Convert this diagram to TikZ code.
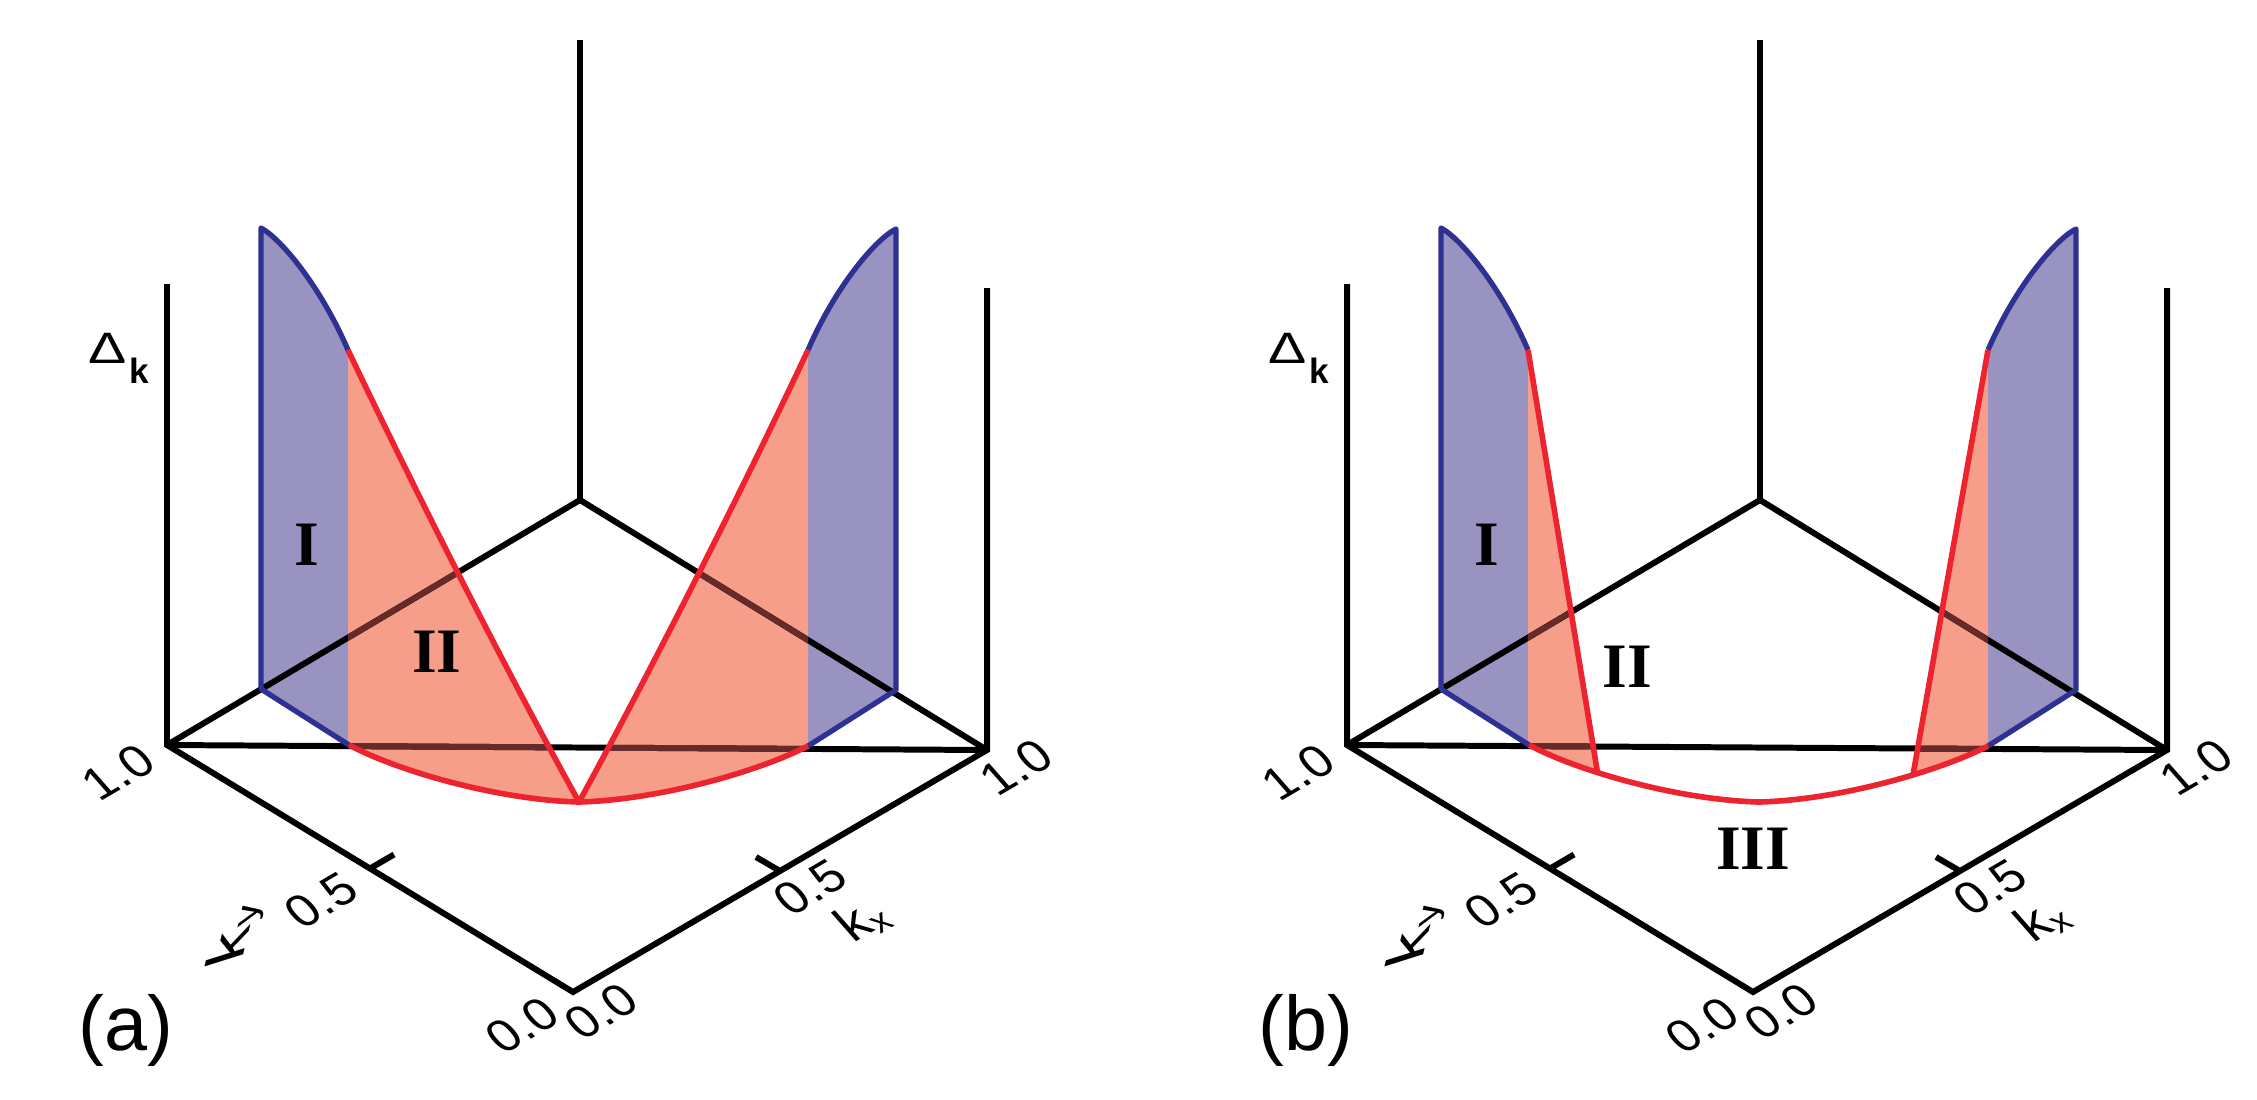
\documentclass[tikz,border=0pt]{standalone}
\usepackage{fontspec}
\setmainfont{Liberation Sans}
\newfontfamily\romfont{Liberation Serif}
\usepackage{graphicx}
\definecolor{bfill}{RGB}{152,147,192}
\definecolor{bline}{RGB}{46,49,146}
\definecolor{rfill}{RGB}{246,158,138}
\definecolor{rline}{RGB}{237,36,48}
\definecolor{darkred}{RGB}{102,42,40}
\tikzset{
  ax/.style={line width=1.7pt, black},
  bl/.style={line width=1.5pt, bline, line join=round},
  rl/.style={line width=1.6pt, rline, line join=round},
  plane/.style={cm={0.863,0.505,-0.66,0.75,(0,0)}, font=\fontsize{14}{14}\selectfont, inner sep=0pt},
  planeky/.style={cm={0.3,1.25,-0.95,-0.3,(0,0)}, font=\fontsize{16}{16}\selectfont, inner sep=0pt},
  roman/.style={font=\romfont\bfseries\fontsize{18}{18}\selectfont, inner sep=0pt},
  panel/.style={font=\fontsize{22}{24}\selectfont, inner sep=0pt},
}
\newcommand\basecoords[1]{%
  \coordinate (#1F) at (573,992);
  \coordinate (#1L) at (167,745);
  \coordinate (#1R) at (987,750);
  \coordinate (#1B) at (580,500);
  \coordinate (#1Lt) at (167,284);
  \coordinate (#1Rt) at (987,288);
  \coordinate (#1Bt) at (580,40);
  \coordinate (#1ym) at (370,868.5);
  \coordinate (#1yt) at (394,854.5);
  \coordinate (#1xm) at (780,871);
  \coordinate (#1xt) at (756,857);
}
\newcommand\baselines[1]{%
  \draw[ax] (#1Lt) -- (#1L) -- (#1F) -- (#1R) -- (#1Rt);
  \draw[ax] (#1Bt) -- (#1B);
  \draw[ax] (#1L) -- (#1B) -- (#1R);
  \draw[ax] (#1L) -- (#1R);
  \draw[ax] (#1ym) -- (#1yt);
  \draw[ax] (#1xm) -- (#1xt);
}
\newcommand\bluesheets{%
  \fill[bfill] (261,228) .. controls (280,238) and (320,285) .. (348,350) -- (348,745) -- (261,689) -- cycle;
  \fill[bfill] (896,229) .. controls (877,238) and (836,285) .. (808,350) -- (808,746) -- (896,690) -- cycle;
}
\newcommand\bluestrokes{%
  \draw[bl] (348,350) .. controls (320,285) and (280,238) .. (261,228) -- (261,689) -- (349,745);
  \draw[bl] (808,350) .. controls (836,285) and (877,238) .. (896,229) -- (896,690) -- (808,746);
}
\newcommand\arcstroke{%
  \draw[rl] (349,745) .. controls (400,772) and (500,800) .. (579,802) .. controls (658,800) and (757,772) .. (808,746);
}
\newcommand\labels[1]{%
  \node (#1D) at (108,348) {\fontsize{12.5}{13}\selectfont\scalebox{1.3}[1]{Δ}};
  \node (#1Dk) at (139,371) {\fontsize{10}{10}\selectfont\bfseries k};
  \node[plane] (#1y10) at (118,772) {1.0};
  \node[plane] (#1y05) at (321,900) {0.5};
  \node[plane] (#1y00) at (522,1025) {0.0};
  \node[plane] (#1x00) at (601,1011) {0.0};
  \node[plane] (#1x05) at (810,887) {0.5};
  \node[plane] (#1x10) at (1016,767) {1.0};
  \node[plane] (#1kx) at (862,920) {\fontsize{15}{15}\selectfont k\raisebox{-1.5pt}{\fontsize{10}{10}\selectfont x}};
  \node[planeky] (#1ky) at (236,935) {k\raisebox{-1.5pt}{\fontsize{10}{10}\selectfont y}};
}
\def\redA{(348,745) -- (348,350) .. controls (418,497) and (509,676) .. (579,802) .. controls (500,800) and (400,772) .. (349,745) -- cycle}
\def\redB{(808,746) -- (808,350) .. controls (739,497) and (648,676) .. (579,802) .. controls (658,800) and (757,772) .. (808,746) -- cycle}
\def\redC{(348,745) -- (348,350) -- (417.5,772.6) .. controls (390.7,764) and (366.9,754.5) .. (349,745) -- cycle}
\def\redD{(808,746) -- (808,350) -- (733,775) .. controls (762.3,766) and (788.6,755.9) .. (808,746) -- cycle}
\begin{document}
\begin{tikzpicture}[x=0.01cm, y=-0.01cm]
\useasboundingbox (0,0) rectangle (2257,1099);
% ---------- panel (a)
\begin{scope}
  \basecoords{a}
  \bluesheets
  \fill[rfill] \redA;
  \fill[rfill] \redB;
  \baselines{a}
  \begin{scope}
    \clip \redA \redB;
    \draw[ax, darkred] (aL) -- (aB) -- (aR);
    \draw[ax, darkred] (aL) -- (aR);
  \end{scope}
  \bluestrokes
  \draw[rl] (348,350) .. controls (418,497) and (509,676) .. (579,802) .. controls (648,676) and (739,497) .. (808,350);
  \arcstroke
  \labels{a}
  \node[roman] (aI) at (307,545) {I};
  \node[roman] (aII) at (437,652) {II};
  \node[panel] (atag) at (126,1030) {(a)};
\end{scope}
% ---------- panel (b)
\begin{scope}[shift={(1180,0)}]
  \basecoords{b}
  \bluesheets
  \fill[rfill] \redC;
  \fill[rfill] \redD;
  \baselines{b}
  \begin{scope}
    \clip \redC \redD;
    \draw[ax, darkred] (bL) -- (bB) -- (bR);
    \draw[ax, darkred] (bL) -- (bR);
  \end{scope}
  \bluestrokes
  \draw[rl] (348,350) -- (417.5,772.6);
  \draw[rl] (808,350) -- (733,775);
  \arcstroke
  \labels{b}
  \node[roman] (bI) at (307,545) {I};
  \node[roman] (bII) at (447,667) {II};
  \node[roman] (bIII) at (573,849) {III};
  \node[panel] (btag) at (126,1030) {(b)};
\end{scope}
\end{tikzpicture}
\end{document}
